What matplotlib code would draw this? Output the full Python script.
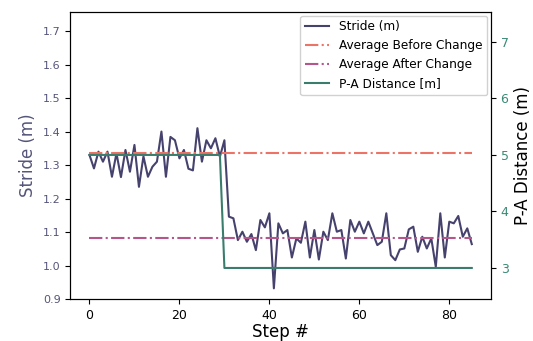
import numpy as np
from matplotlib import pyplot as plt

# stride length per step (m)
stride_before = [1.33, 1.29, 1.34, 1.31, 1.34, 1.265, 1.335, 1.264, 1.345, 1.28,
                 1.36, 1.235, 1.326, 1.265, 1.295, 1.31, 1.40, 1.265, 1.384, 1.374,
                 1.32, 1.345, 1.289, 1.284, 1.41, 1.31, 1.374, 1.35, 1.38, 1.325,
                 1.374]
stride_after = [1.146, 1.141, 1.076, 1.101, 1.071, 1.094, 1.046, 1.136, 1.114, 1.156,
                0.932, 1.126, 1.096, 1.106, 1.024, 1.081, 1.068, 1.131, 1.024, 1.106,
                1.018, 1.101, 1.076, 1.156, 1.101, 1.106, 1.021, 1.136, 1.101, 1.131,
                1.096, 1.131, 1.096, 1.061, 1.071, 1.156, 1.031, 1.016, 1.048, 1.051,
                1.108, 1.116, 1.041, 1.086, 1.051, 1.081, 0.996, 1.156, 1.024, 1.131,
                1.126, 1.148, 1.086, 1.111, 1.064]
stride = stride_before + stride_after
steps = np.arange(len(stride))

avg_before = 1.335
avg_after = 1.082

# P-A distance: 5 m until step 29, then 3 m
pa_before_n = 30
pa_dist = [5.0] * pa_before_n + [3.0] * (len(stride) - pa_before_n)

c_stride = '#46426e'
c_before = '#ec7467'
c_after = '#b5568a'
c_pa = '#3a7d6d'

fig, ax = plt.subplots(figsize=(5.33, 3.41), dpi=100)
l1, = ax.plot(steps, stride, color=c_stride, lw=1.5, label='Stride (m)')
l2, = ax.plot(steps, [avg_before] * len(steps), '-.', color=c_before, lw=1.5,
              label='Average Before Change')
l3, = ax.plot(steps, [avg_after] * len(steps), '-.', color=c_after, lw=1.5,
              label='Average After Change')
ax.set_ylim(0.9, 1.757)
ax.set_yticks(np.arange(0.9, 1.71, 0.1))
ax.set_xticks([0, 20, 40, 60, 80])
ax.set_xlabel('Step #', fontsize=12, labelpad=1)
ax.set_ylabel('Stride (m)', fontsize=12, color='#55557a')
ax.tick_params(axis='y', colors='#55557a', labelsize=8)
ax.tick_params(axis='y', color='k')
ax.tick_params(axis='x', labelsize=9)

ax2 = ax.twinx()
l4, = ax2.plot(steps, pa_dist, color=c_pa, lw=1.5, label='P-A Distance [m]')
ax2.set_ylim(2.45, 7.53)
ax2.set_yticks([3, 4, 5, 6, 7])
ax2.set_ylabel('P-A Distance (m)', fontsize=12)
ax2.tick_params(axis='y', labelcolor='#3a8a76', labelsize=9)

ax2.legend(handles=[l1, l2, l3, l4], loc='upper right', fontsize=8.7,
           framealpha=0.9, borderaxespad=0.3, handlelength=2.0)

plt.subplots_adjust(left=0.132, right=0.921, top=0.965, bottom=0.123)
plt.savefig('out.png', dpi=100)
